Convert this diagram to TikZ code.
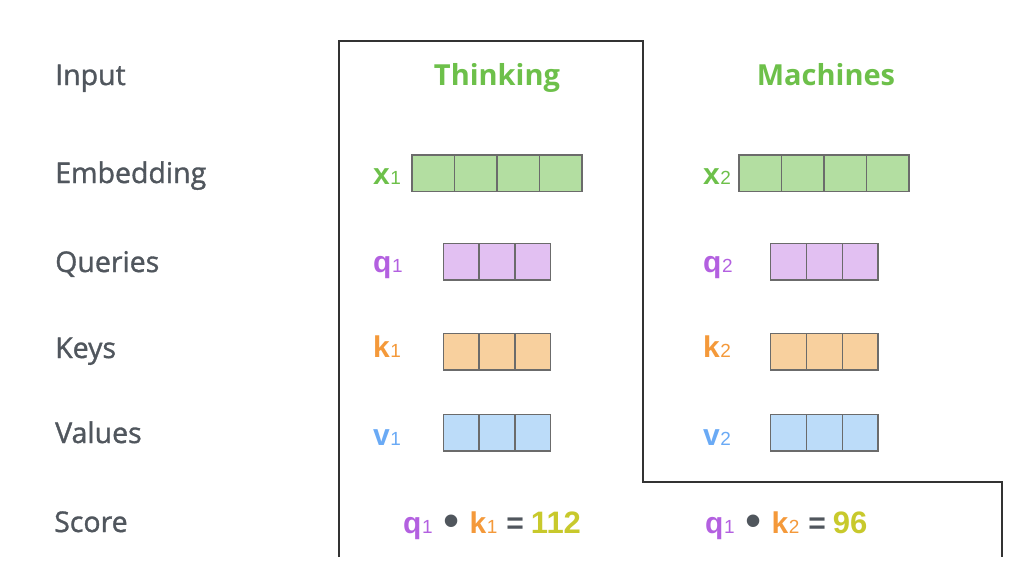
\documentclass[tikz,border=0pt]{standalone}
\usepackage{fontspec}
\setmainfont{Open Sans}
\newfontfamily\labfont{Open Sans}[FakeBold=1.2]
\newfontfamily\helv{Liberation Sans}
\definecolor{labgray}{HTML}{50565D}
\definecolor{wgreen}{HTML}{6DC04A}
\definecolor{qpurple}{HTML}{B360E0}
\definecolor{korange}{HTML}{F4993A}
\definecolor{vblue}{HTML}{6AAAF5}
\definecolor{numyel}{HTML}{C8C92C}
\definecolor{fgreen}{HTML}{B3DEA1}
\definecolor{fpurple}{HTML}{E2C0F2}
\definecolor{forange}{HTML}{F8D09E}
\definecolor{fblue}{HTML}{BCDCF9}
\definecolor{cellgray}{HTML}{6B6B6B}
\definecolor{outline}{HTML}{333333}
\newcommand\vsym[3]{{\color{#1}\helv\bfseries #2\hskip0.5pt{\fontsize{19}{19}\selectfont\mdseries #3}}}
\newcommand\bulop{{\color{labgray}\helv\fontsize{46}{46}\selectfont\raisebox{-3pt}{•}}}
\newcommand\eqop{{\color{labgray}\helv\bfseries\fontsize{30}{30}\selectfont =}}
\newcommand\scoreval[1]{{\color{numyel}\helv\bfseries\fontsize{31}{31}\selectfont #1}}
\begin{document}
\begin{tikzpicture}[x=1pt,y=-1pt,
  rowlab/.style={anchor=base west,inner sep=0,text=labgray,font=\labfont\fontsize{28.5}{28.5}\selectfont},
  wordlab/.style={anchor=base,inner sep=0,text=wgreen,font=\fontsize{29}{29}\selectfont\bfseries},
  veclab/.style={anchor=base west,inner sep=0,font=\fontsize{30}{30}\selectfont},
  scorelab/.style={anchor=base west,inner sep=0,font=\fontsize{30}{30}\selectfont},
  cell/.style={draw=cellgray,line width=1.3pt,inner sep=0,outer sep=0,minimum height=36.5,anchor=north west},
  frame/.style={draw=outline,line width=1.3pt}]
\useasboundingbox (0,0) rectangle (1036,571);
% row labels
\node[rowlab] (lin) at (55,85) {Input};
\node[rowlab] (lem) at (55,183) {Embedding};
\node[rowlab] (lqu) at (55,272) {Queries};
\node[rowlab] (lke) at (55,358) {Keys};
\node[rowlab] (lva) at (55,443) {Values};
\node[rowlab] (lsc) at (54,532) {Score};
% outline
\draw[frame] (339,557) -- (339,41) -- (643,41) -- (643,482) -- (1002,482) -- (1002,557);
% words
\node[wordlab] (w1) at (497,85) {Thinking};
\node[wordlab] (w2) at (826,85) {Machines};
% vector labels
\node[veclab] (x1) at (373,184) {\vsym{wgreen}{x}{1}};
\node[veclab] (q1) at (373,272) {\vsym{qpurple}{q}{1}};
\node[veclab] (k1) at (373,357) {\vsym{korange}{k}{1}};
\node[veclab] (v1) at (373,445) {\vsym{vblue}{v}{1}};
\node[veclab] (x2) at (703,184) {\vsym{wgreen}{x}{2}};
\node[veclab] (q2) at (703,272) {\vsym{qpurple}{q}{2}};
\node[veclab] (k2) at (703,357) {\vsym{korange}{k}{2}};
\node[veclab] (v2) at (703,445) {\vsym{vblue}{v}{2}};
% embedding cells
\foreach \i in {0,1,2,3}{
  \node[cell,fill=fgreen,minimum width=42.5] (ex1-\i) at (412+\i*42.5,155) {};
  \node[cell,fill=fgreen,minimum width=42.5] (ex2-\i) at (739+\i*42.5,155) {};
}
% q k v cells
\foreach \i in {0,1,2}{
  \node[cell,fill=fpurple,minimum width=35.8] (cq1-\i) at (443.3+\i*35.8,243.5) {};
  \node[cell,fill=forange,minimum width=35.8] (ck1-\i) at (443.3+\i*35.8,333.5) {};
  \node[cell,fill=fblue,minimum width=35.8] (cv1-\i) at (443.3+\i*35.8,414.5) {};
  \node[cell,fill=fpurple,minimum width=35.8] (cq2-\i) at (770.7+\i*35.8,243.5) {};
  \node[cell,fill=forange,minimum width=35.8] (ck2-\i) at (770.7+\i*35.8,333.5) {};
  \node[cell,fill=fblue,minimum width=35.8] (cv2-\i) at (770.7+\i*35.8,414.5) {};
}
% scores
\node[scorelab] (s1) at (403,533) {\vsym{qpurple}{q}{1}\hskip11pt\bulop\hskip10pt\vsym{korange}{k}{1}\hskip9pt\eqop\hskip7pt\scoreval{112}};
\node[scorelab] (s2) at (705,533) {\vsym{qpurple}{q}{1}\hskip11pt\bulop\hskip10pt\vsym{korange}{k}{2}\hskip9pt\eqop\hskip7pt\scoreval{96}};
\end{tikzpicture}
\end{document}
